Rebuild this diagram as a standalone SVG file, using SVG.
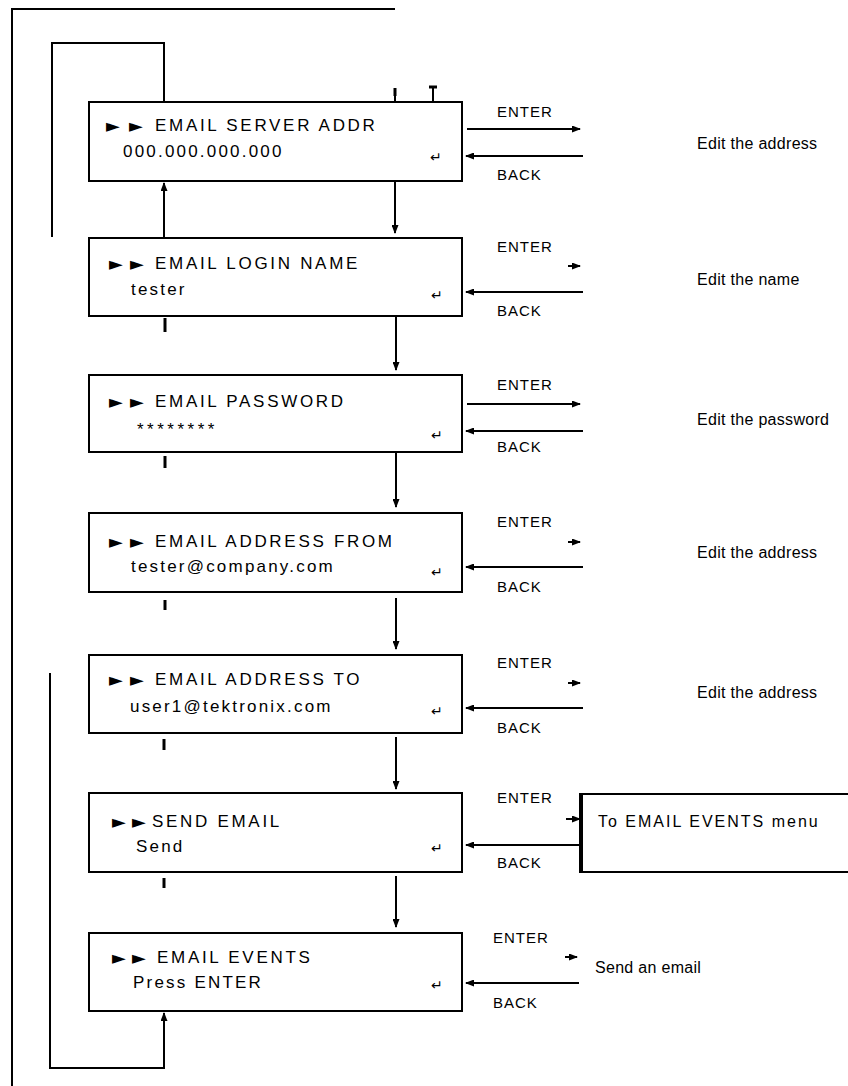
<svg xmlns="http://www.w3.org/2000/svg" width="848" height="1086" viewBox="0 0 848 1086">
<style>
.bg{fill:#fff}
.box{fill:#fff;stroke:#000;stroke-width:2}
.ln{fill:none;stroke:#000;stroke-width:2}
.stub{fill:none;stroke:#000;stroke-width:3}
.t1{font-family:"Liberation Sans",Arial,sans-serif;font-size:17px;letter-spacing:2.7px;fill:#000}
.t2{font-family:"Liberation Sans",Arial,sans-serif;font-size:17px;letter-spacing:2.2px;fill:#000}
.tri{font-family:"DejaVu Sans",sans-serif;font-size:18px;fill:#000}
.gl{font-family:"DejaVu Sans",sans-serif;font-size:14px;fill:#000}
.lbl{font-family:"Liberation Sans",Arial,sans-serif;font-size:15px;letter-spacing:1px;fill:#000}
.desc{font-family:"Liberation Sans",Arial,sans-serif;font-size:16px;letter-spacing:0.3px;fill:#000}
</style>
<defs>
<marker id="arr" markerWidth="9" markerHeight="7" refX="8" refY="3.5" orient="auto" markerUnits="userSpaceOnUse"><path d="M0,0 L9,3.5 L0,7 z" fill="#000"/></marker>
</defs>
<rect class="bg" x="0" y="0" width="848" height="1086"/>

<g id="connectors">
  <!-- outer loop -->
  <path class="ln" d="M12,1086 V9 H395"/>
  <line class="ln" x1="395" y1="88" x2="395" y2="102"/>
  <line class="stub" x1="395" y1="88" x2="395" y2="96"/>
  <line class="ln" x1="433" y1="86" x2="433" y2="102"/>
  <line class="stub" x1="429" y1="87" x2="437" y2="87"/>
  <!-- inner top loop -->
  <path class="ln" d="M52,237 V43 H164 V102"/>
  <!-- bottom loop -->
  <path class="ln" d="M50,673 V1068 H164 V1013" marker-end="url(#arr)"/>
  <!-- left column up connector -->
  <line class="ln" x1="164" y1="238" x2="164" y2="183" marker-end="url(#arr)"/>
  <line class="stub" x1="165" y1="318" x2="165" y2="332"/>
  <line class="stub" x1="165" y1="456" x2="165" y2="468"/>
  <line class="stub" x1="165" y1="600" x2="165" y2="610"/>
  <line class="stub" x1="164" y1="739" x2="164" y2="750"/>
  <line class="stub" x1="164" y1="878" x2="164" y2="888"/>
  <!-- right column down connectors -->
  <line class="ln" x1="395" y1="181" x2="395" y2="233" marker-end="url(#arr)"/>
  <line class="ln" x1="396" y1="316" x2="396" y2="370" marker-end="url(#arr)"/>
  <line class="ln" x1="396" y1="452" x2="396" y2="507" marker-end="url(#arr)"/>
  <line class="ln" x1="396" y1="598" x2="396" y2="649" marker-end="url(#arr)"/>
  <line class="ln" x1="396" y1="737" x2="396" y2="789" marker-end="url(#arr)"/>
  <line class="ln" x1="396" y1="876" x2="396" y2="927" marker-end="url(#arr)"/>
  <!-- ENTER arrows -->
  <line class="ln" x1="467" y1="129" x2="580" y2="129" marker-end="url(#arr)"/>
  <line class="ln" x1="568" y1="266" x2="580" y2="266" marker-end="url(#arr)"/>
  <line class="ln" x1="467" y1="404" x2="580" y2="404" marker-end="url(#arr)"/>
  <line class="ln" x1="568" y1="542" x2="580" y2="542" marker-end="url(#arr)"/>
  <line class="ln" x1="568" y1="683" x2="580" y2="683" marker-end="url(#arr)"/>
  <line class="ln" x1="566" y1="819" x2="580" y2="819" marker-end="url(#arr)"/>
  <line class="ln" x1="565" y1="957" x2="577" y2="957" marker-end="url(#arr)"/>
  <!-- BACK arrows -->
  <line class="ln" x1="583" y1="156" x2="466" y2="156" marker-end="url(#arr)"/>
  <line class="ln" x1="583" y1="292" x2="466" y2="292" marker-end="url(#arr)"/>
  <line class="ln" x1="583" y1="431" x2="466" y2="431" marker-end="url(#arr)"/>
  <line class="ln" x1="583" y1="567" x2="466" y2="567" marker-end="url(#arr)"/>
  <line class="ln" x1="583" y1="708" x2="466" y2="708" marker-end="url(#arr)"/>
  <line class="ln" x1="580" y1="845" x2="466" y2="845" marker-end="url(#arr)"/>
  <line class="ln" x1="579" y1="983" x2="466" y2="983" marker-end="url(#arr)"/>
  <!-- labels -->
  <text class="lbl" x="497" y="117">ENTER</text>
  <text class="lbl" x="497" y="180">BACK</text>
  <text class="lbl" x="497" y="252">ENTER</text>
  <text class="lbl" x="497" y="316">BACK</text>
  <text class="lbl" x="497" y="390">ENTER</text>
  <text class="lbl" x="497" y="452">BACK</text>
  <text class="lbl" x="497" y="527">ENTER</text>
  <text class="lbl" x="497" y="592">BACK</text>
  <text class="lbl" x="497" y="668">ENTER</text>
  <text class="lbl" x="497" y="733">BACK</text>
  <text class="lbl" x="497" y="803">ENTER</text>
  <text class="lbl" x="497" y="868">BACK</text>
  <text class="lbl" x="493" y="943">ENTER</text>
  <text class="lbl" x="493" y="1008">BACK</text>
</g>

<g id="server-addr">
  <rect class="box" x="89" y="102" width="373" height="79"/>
  <text class="tri" x="106 129" y="132">►►</text>
  <text class="t1" x="155" y="131">EMAIL SERVER ADDR</text>
  <text class="t2" x="123" y="157">000.000.000.000</text>
  <text class="gl" x="430" y="162">↵</text>
</g>
<g id="login-name">
  <rect class="box" x="89" y="238" width="373" height="78"/>
  <text class="tri" x="109 130" y="270">►►</text>
  <text class="t1" x="155" y="269">EMAIL LOGIN NAME</text>
  <text class="t2" x="131" y="295">tester</text>
  <text class="gl" x="431" y="300">↵</text>
</g>
<g id="password">
  <rect class="box" x="89" y="375" width="373" height="77"/>
  <text class="tri" x="109 130" y="408">►►</text>
  <text class="t1" x="155" y="407">EMAIL PASSWORD</text>
  <text class="t2" x="137" y="435" style="letter-spacing:3.5px">********</text>
  <text class="gl" x="431" y="440">↵</text>
</g>
<g id="address-from">
  <rect class="box" x="89" y="513" width="373" height="79"/>
  <text class="tri" x="109 130" y="548">►►</text>
  <text class="t1" x="155" y="547">EMAIL ADDRESS FROM</text>
  <text class="t2" x="131" y="572">tester@company.com</text>
  <text class="gl" x="431" y="577">↵</text>
</g>
<g id="address-to">
  <rect class="box" x="89" y="655" width="373" height="78"/>
  <text class="tri" x="109 130" y="686">►►</text>
  <text class="t1" x="155" y="685">EMAIL ADDRESS TO</text>
  <text class="t2" x="130" y="712">user1@tektronix.com</text>
  <text class="gl" x="431" y="716">↵</text>
</g>
<g id="send-email">
  <rect class="box" x="89" y="793" width="373" height="79"/>
  <text class="tri" x="112 132" y="828">►►</text>
  <text class="t1" x="152" y="827">SEND EMAIL</text>
  <text class="t2" x="136" y="852">Send</text>
  <text class="gl" x="431" y="853">↵</text>
</g>
<g id="email-events">
  <rect class="box" x="89" y="933" width="373" height="78"/>
  <text class="tri" x="112 132" y="964">►►</text>
  <text class="t1" x="157" y="963">EMAIL EVENTS</text>
  <text class="t2" x="133" y="988">Press ENTER</text>
  <text class="gl" x="431" y="990">↵</text>
</g>

<g id="edit-address-1"><text class="desc" x="697" y="149">Edit the address</text></g>
<g id="edit-name"><text class="desc" x="697" y="285">Edit the name</text></g>
<g id="edit-password"><text class="desc" x="697" y="425">Edit the password</text></g>
<g id="edit-address-2"><text class="desc" x="697" y="558">Edit the address</text></g>
<g id="edit-address-3"><text class="desc" x="697" y="698">Edit the address</text></g>
<g id="to-events-menu">
  <rect class="box" x="581" y="794" width="280" height="78"/>
  <line x1="581" y1="793" x2="581" y2="873" stroke="#000" stroke-width="4"/>
  <text class="desc" x="598" y="827" style="letter-spacing:2px">To EMAIL EVENTS menu</text>
</g>
<g id="send-an-email"><text class="desc" x="595" y="973">Send an email</text></g>
</svg>
